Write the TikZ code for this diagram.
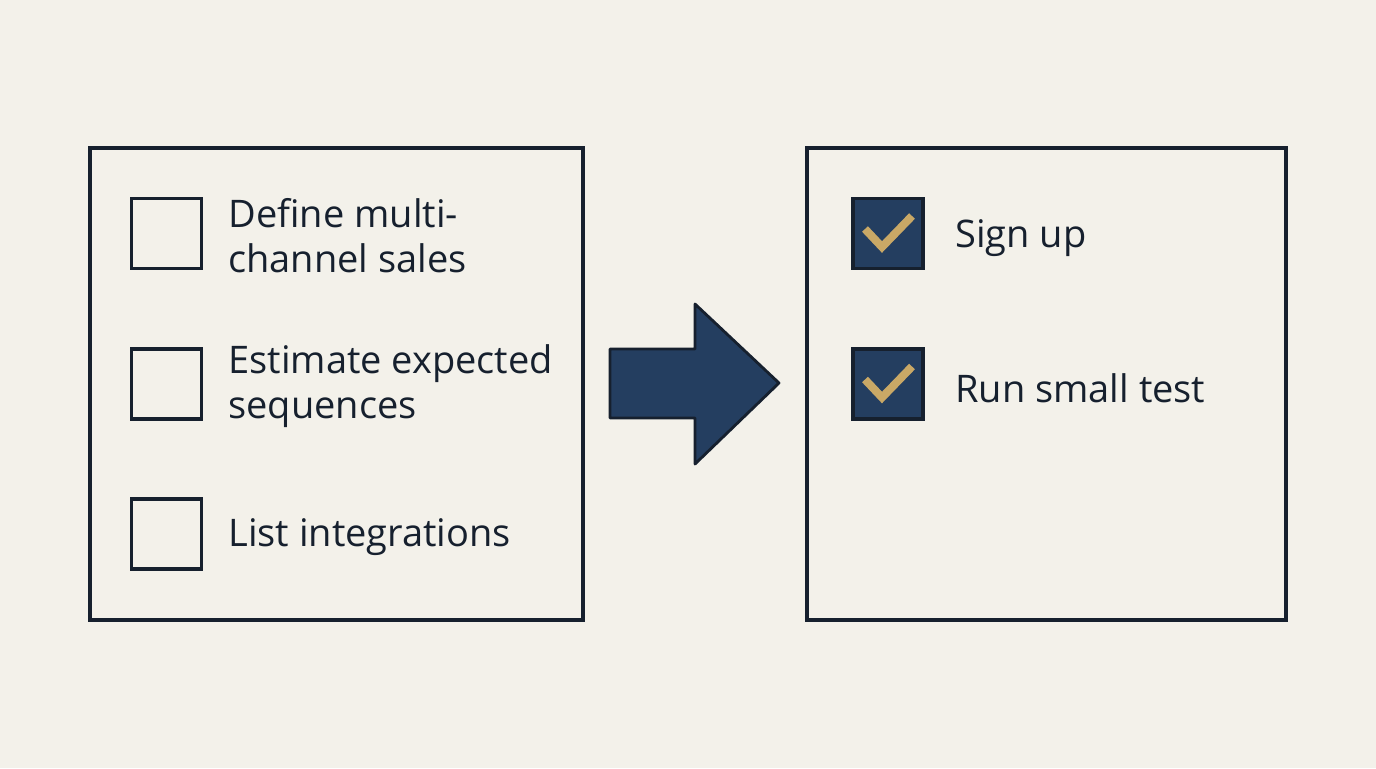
\documentclass[tikz,border=0pt]{standalone}
\usepackage{fontspec}
\setmainfont{Open Sans}
\definecolor{bg}{HTML}{F3F1EA}
\definecolor{ink}{HTML}{16202E}
\definecolor{navy}{HTML}{243E60}
\definecolor{gold}{HTML}{C9A866}
\tikzset{
  panel/.style={draw=ink, line width=1.6pt},
  cbox/.style={draw=ink, line width=1.7pt, minimum width=35pt, minimum height=35pt, inner sep=0pt},
  donebox/.style={cbox, fill=navy},
  item/.style={anchor=west, inner sep=0pt, align=left, text=ink, font=\fontsize{19}{22.5}\selectfont},
  tick/.style={draw=gold, line width=4pt},
}
\begin{document}
\begin{tikzpicture}[x=0.5pt, y=-0.5pt]
\fill[bg] (0,0) rectangle (1376,768);
\useasboundingbox (0,0) rectangle (1376,768);
% panels
\node[panel, minimum width=246.5pt, minimum height=236pt, inner sep=0pt] (lp) at (336.5,384) {};
\node[panel, minimum width=239.5pt, minimum height=236pt, inner sep=0pt] (rp) at (1046.5,384) {};
% left checkboxes
\node[cbox] (b1) at (166.5,233.5) {};
\node[cbox] (b2) at (166.5,384) {};
\node[cbox] (b3) at (166.5,534) {};
\node[item] (t1) at (228,236) {Define multi-\\channel sales};
\node[item] (t2) at (228,386.5) {Estimate expected\\sequences};
\node[item] (t3) at (228,537) {List integrations};
% right checked boxes
\node[donebox] (c1) at (888,233.5) {};
\node[donebox] (c2) at (888,384) {};
\draw[tick] (865,229) -- (882,247) -- (912,216);
\draw[tick] (865,379.5) -- (882,397.5) -- (912,366.5);
\node[item] (s1) at (955,238.5) {Sign up};
\node[item] (s2) at (955,388) {Run small test};
% arrow
\draw[draw=ink, fill=navy, line width=1.4pt, line join=round]
  (610,349) -- (695,349) -- (695,304) -- (779,383) -- (695,464) -- (695,418) -- (610,418) -- cycle;
\end{tikzpicture}
\end{document}
